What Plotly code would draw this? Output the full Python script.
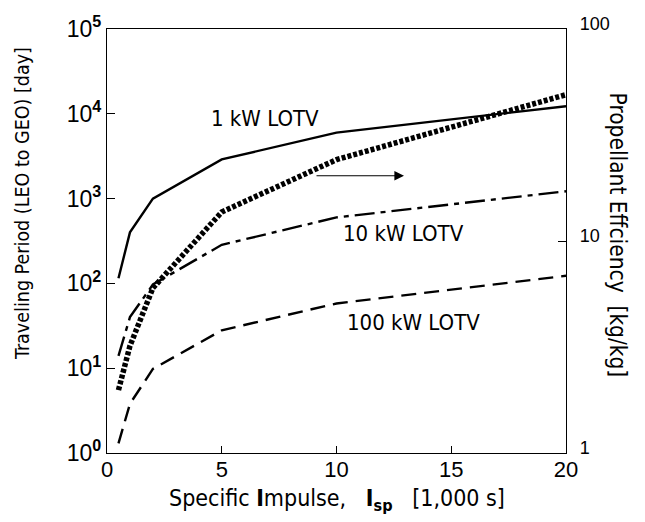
import plotly.graph_objects as go

# ---- data ----
isp = [0.5, 1, 2, 5, 10, 20]                       # Specific impulse [1,000 s]
period_1kw = [115, 400, 1000, 2900, 6000, 12300]   # Traveling period [day]
period_10kw = [14, 40, 97, 285, 600, 1220]
period_100kw = [1.3, 3.8, 9.8, 28, 58, 123]
efficiency = [1.98, 3.2, 6.0, 13.7, 24.2, 49]      # Propellant efficiency [kg/kg]

x_ticks = [0, 5, 10, 15, 20]
y_ticks = [1, 10, 100, 1000, 10000, 100000]
y_ticktext = ["10<sup><b>%d</b></sup>" % i for i in range(6)]
y2_ticks = [1, 10, 100]
y2_ticktext = ["1", "10", "100"]

TXT = "DejaVu Sans Condensed, DejaVu Sans Mono, monospace"
NUM = "Liberation Sans, Arial, sans-serif"

fig = go.Figure()
fig.add_trace(go.Scatter(x=isp, y=period_1kw, mode="lines",
                         line=dict(color="black", width=2.4), showlegend=False))
fig.add_trace(go.Scatter(x=isp, y=period_10kw, mode="lines",
                         line=dict(color="black", width=2.4, dash="20px,6px,5px,6px"),
                         showlegend=False))
fig.add_trace(go.Scatter(x=isp, y=period_100kw, mode="lines",
                         line=dict(color="black", width=2.4, dash="15px,8px"),
                         showlegend=False))
fig.add_trace(go.Scatter(x=isp, y=efficiency, mode="lines", yaxis="y2",
                         line=dict(color="black", width=5.5, dash="4px,2px"),
                         showlegend=False))

W, H = 645, 522
L, R, T, B = 107, 79, 24, 69
pw, ph = W - L - R, H - T - B

def px(x):
    return (x - L) / pw

def py(y):
    return (H - B - y) / ph

fig.update_layout(
    width=W, height=H,
    margin=dict(l=L, r=R, t=T, b=B, pad=0),
    paper_bgcolor="white", plot_bgcolor="white",
    showlegend=False,
    xaxis=dict(range=[0, 20], tickvals=x_ticks, ticks="inside", ticklen=7,
               tickcolor="black", showline=True, linecolor="black", linewidth=1.2,
               mirror=True, showgrid=False, zeroline=False, ticklabelstandoff=-4,
               tickfont=dict(family=NUM, size=22, color="black")),
    yaxis=dict(type="log", range=[0, 5], tickvals=y_ticks, ticktext=y_ticktext,
               ticks="inside", ticklen=8, tickcolor="black", showline=True,
               linecolor="black", linewidth=1.2, mirror=True, showgrid=False,
               zeroline=False, tickfont=dict(family=NUM, size=23, color="black")),
    yaxis2=dict(type="log", range=[0, 2], overlaying="y", side="right",
                tickvals=y2_ticks, ticktext=y2_ticktext, ticks="inside", ticklen=8,
                tickcolor="black", showline=True, linecolor="black", linewidth=1.2,
                showgrid=False, zeroline=False, ticklabelstandoff=9,
                ticklabelshift=-5,
                tickfont=dict(family=NUM, size=18, color="black")),
)

def label(text, x, y, size, angle=0):
    return dict(text=text, textangle=angle, xref="paper", yref="paper",
                x=px(x), y=py(y), xanchor="center", yanchor="middle",
                showarrow=False, font=dict(family=TXT, size=size, color="black"))

ann = [
    label("Traveling Period (LEO to GEO) [day]", 23, 201, 19.5, -90),
    label("Propellant Effciency  [kg/kg]", 618, 232, 22.5, 90),
    label("Specific <b>I</b>mpulse,   <b>I</b><sub><b>sp</b></sub>   [1,000 s]", 337, 501, 23),
    label("1 kW LOTV", 264.5, 115, 22),
    label("10 kW LOTV", 403, 231, 22),
    label("100 kW LOTV", 413, 321, 22),
    dict(text="", xref="paper", yref="paper", x=px(404), y=py(172.5),
         ax=-89, ay=0, axref="pixel", ayref="pixel",
         showarrow=True, arrowhead=2, arrowsize=1.6, arrowwidth=1.2,
         arrowcolor="black"),
]
fig.update_layout(annotations=ann)

fig.write_html("out.html")
